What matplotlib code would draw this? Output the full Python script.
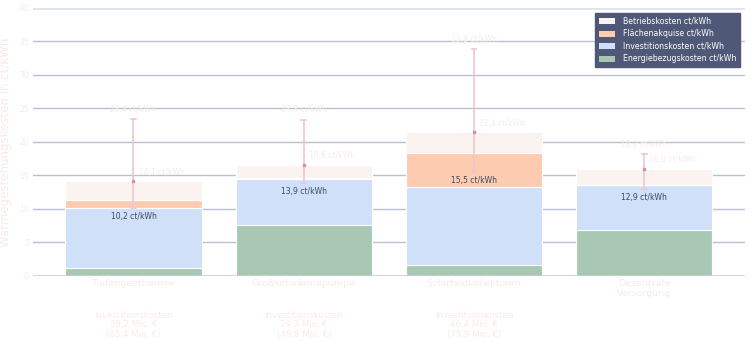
import numpy as np
import matplotlib.pyplot as plt
from matplotlib.patches import Patch
from matplotlib.transforms import blended_transform_factory

plt.rcParams['font.family'] = ['DejaVu Sans']

categories = ['Tiefengeothermie', 'Großluftwärmepumpe', 'Solarfeldkollektoren', 'Dezentrale\nVersorgung']
energie = [1.1, 7.6, 1.6, 6.9]
invest = [9.1, 6.8, 11.7, 6.7]
flaeche = [1.1, 0.15, 5.1, 0.0]
betrieb = [2.8, 2.05, 3.0, 2.4]
total = [14.1, 16.6, 21.4, 16.0]
err_low = [10.2, 13.9, 15.5, 12.9]
err_high = [23.4, 23.3, 33.8, 18.2]
invest_text = ['Investitionskosten\n39,2 Mio. €\n(65,4 Mio. €)',
               'Investitionskosten\n29,3 Mio. €\n(48,8 Mio. €)',
               'Investitionskosten\n46,4 Mio. €\n(75,9 Mio. €)',
               '']

c_betrieb = '#faf3f0'
c_flaeche = '#fdcbb0'
c_invest = '#d0e0f8'
c_energie = '#a8c8b4'
c_faint = '#f8ebe9'
c_dark = '#3d4863'
c_err = '#efc6d0'


def fmt(v):
    return f'{v:.1f}'.replace('.', ',') + ' ct/kWh'


fig = plt.figure(figsize=(7.5, 3.41), dpi=100)
ax = fig.add_axes([0.044, 0.191, 0.949, 0.786])

x = np.arange(len(categories))
w = 0.8
bottom = np.zeros(len(categories))
for vals, col in [(energie, c_energie), (invest, c_invest), (flaeche, c_flaeche), (betrieb, c_betrieb)]:
    ax.bar(x, vals, w, bottom=bottom, color=col, edgecolor='white', linewidth=0.8, zorder=3)
    bottom += np.array(vals)

# range of the heat cost per technology
for i in range(len(categories)):
    ax.plot([x[i], x[i]], [err_low[i], err_high[i]], color=c_err, lw=1.2, zorder=4)
    for v in (err_low[i], err_high[i]):
        ax.plot([x[i] - 0.014, x[i] + 0.014], [v, v], color=c_err, lw=1.2, zorder=4)
    ax.plot(x[i], total[i], marker='s', ms=2, color='#dc8da0', zorder=5)
    ax.text(x[i], err_high[i] + 0.8, fmt(err_high[i]), ha='center', va='bottom',
            fontsize=5.5, color=c_faint, zorder=6)
    ax.text(x[i] + 0.03, total[i] + 0.7, fmt(total[i]), ha='left', va='bottom',
            fontsize=5.5, color=c_faint, zorder=6)
    ax.text(x[i], err_low[i] - 0.6, fmt(err_low[i]), ha='center', va='top',
            fontsize=5.5, color=c_dark, zorder=6)

ax.set_xlim(-0.59, 3.59)
ax.set_ylim(0, 40)
ax.set_yticks(np.arange(0, 41, 5))
ax.tick_params(axis='y', length=0, labelsize=5.5, labelcolor=c_faint, pad=3)
ax.set_xticks([])
for s in ax.spines.values():
    s.set_visible(False)
for v in np.arange(5, 40, 5):
    ax.axhline(v, color='#b9c0d0', lw=1, zorder=1)
ax.axhline(40, color='#dfe4ea', lw=2, zorder=1)
ax.axhline(0, color='#c9cce0', lw=1.2, zorder=4)

ax.set_ylabel('Wärmegestehungskosten in ct/kWh', fontsize=8.5, color=c_faint, labelpad=5)

tr = blended_transform_factory(ax.transData, fig.transFigure)
for i in range(len(categories)):
    ax.text(x[i], 1 - 279 / 341, categories[i], transform=tr, ha='center', va='top',
            fontsize=6.8, color=c_faint, linespacing=1.1)
    ax.text(x[i], 1 - 311 / 341, invest_text[i], transform=tr, ha='center', va='top',
            fontsize=6.2, color=c_faint, linespacing=1.05)

handles = [Patch(facecolor=c_betrieb, edgecolor='none'),
           Patch(facecolor=c_flaeche, edgecolor='none'),
           Patch(facecolor=c_invest, edgecolor='none'),
           Patch(facecolor=c_energie, edgecolor='none')]
labels = ['Betriebskosten ct/kWh', 'Flächenakquise ct/kWh',
          'Investitionskosten ct/kWh', 'Energiebezugskosten ct/kWh']
leg = ax.legend(handles, labels, loc='upper right', bbox_to_anchor=(0.9985, 0.995),
                fontsize=5.6, frameon=True, facecolor='#4f5977', edgecolor='#4f5977',
                framealpha=1, labelcolor='white', handlelength=2.0, handleheight=0.8,
                handletextpad=1.0, labelspacing=0.45, borderpad=0.5, fancybox=False)
leg.set_zorder(10)

fig.savefig('out.png', dpi=100)
